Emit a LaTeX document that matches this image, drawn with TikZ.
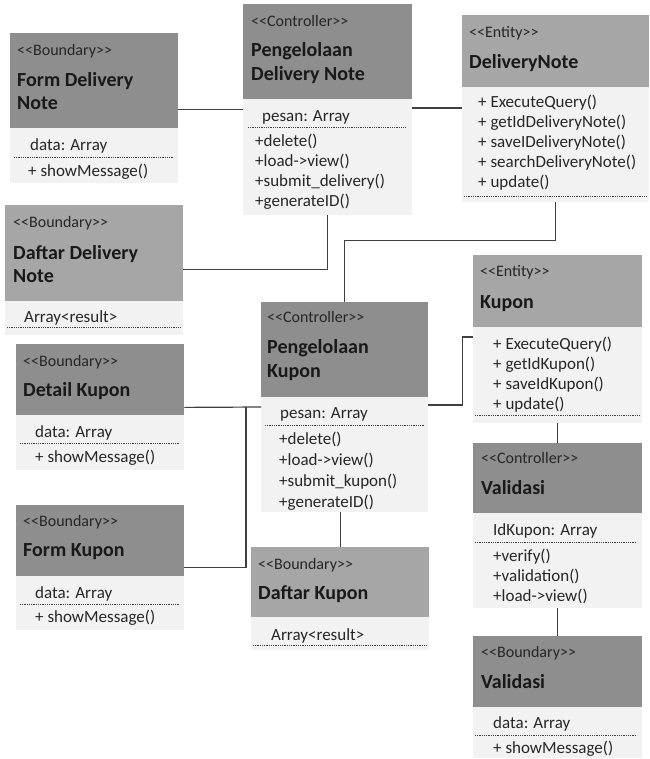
\documentclass[tikz,border=0pt]{standalone}
\usepackage{fontspec}
\setmainfont{Carlito}[Ligatures=TeXOff]
\usepackage{xcolor}
\usepackage{tikz}
\usetikzlibrary{positioning}

\definecolor{hdark}{HTML}{8E8E8E}
\definecolor{hlight}{HTML}{A6A6A6}
\definecolor{bodyfill}{HTML}{F2F2F2}
\definecolor{txtgrey}{HTML}{262626}
\definecolor{lnk}{HTML}{404040}

\begin{document}
\begin{tikzpicture}[x=1pt, y=-1pt,
    hdr/.style={inner sep=0, anchor=north west},
    body/.style={fill=bodyfill, inner sep=0, anchor=north west},
    stereo/.style={anchor=base west, inner sep=0, text=txtgrey, font=\fontsize{16}{19}\selectfont},
    ttl/.style={anchor=base west, inner sep=0, text=black!90, font=\fontsize{20}{24}\selectfont\bfseries},
    mem/.style={anchor=base west, inner sep=0, text=txtgrey, font=\fontsize{17}{20}\selectfont},
    sep/.style={densely dotted, line width=0.8pt, draw=lnk},
    conn/.style={line width=1.2pt, draw=lnk}]
    \useasboundingbox (0,0) rectangle (649,759);

    % Form Delivery Note
    \node[hdr, fill=hdark, minimum width=168pt, minimum height=95pt] (fdnH) at (10,33) {};
    \node[body, minimum width=168pt, minimum height=55pt] (fdnB) at (10,128) {};
    \node[stereo] (fdnS) at (17,55.5) {<<Boundary>>};
    \node[ttl] (fdnT) at (17,86.5) {Form Delivery};
    \node[ttl] (fdnT2) at (17,109.5) {Note};
    \node[mem] (fdnA) at (30,151) {data: Array};
    \draw[sep] (14,157) -- (174,157);
    \node[mem] (fdnM) at (28,177) {+ showMessage()};

    % Pengelolaan Delivery Note
    \node[hdr, fill=hdark, minimum width=169pt, minimum height=95pt] (pdnH) at (243,4) {};
    \node[body, minimum width=169pt, minimum height=116pt] (pdnB) at (243,99) {};
    \node[stereo] (pdnS) at (251,26.5) {<<Controller>>};
    \node[ttl] (pdnT) at (251,56.5) {Pengelolaan};
    \node[ttl] (pdnT2) at (251,80.5) {Delivery Note};
    \node[mem] (pdnA) at (262,122) {pesan: Array};
    \draw[sep] (248,127) -- (406,127);
    \node[mem] (pdnM1) at (255,147) {+delete()};
    \node[mem] (pdnM2) at (255,167) {+load->view()};
    \node[mem] (pdnM3) at (255,187) {+submit\_delivery()};
    \node[mem] (pdnM4) at (255,207) {+generateID()};

    % DeliveryNote
    \node[hdr, fill=hlight, minimum width=187pt, minimum height=72pt] (dnH) at (462,15) {};
    \node[body, minimum width=187pt, minimum height=115pt] (dnB) at (462,87) {};
    \node[stereo] (dnS) at (469,37.5) {<<Entity>>};
    \node[ttl] (dnT) at (469,68.5) {DeliveryNote};
    \node[mem] (dnM1) at (478,108) {+ ExecuteQuery()};
    \node[mem] (dnM2) at (478,128) {+ getIdDeliveryNote()};
    \node[mem] (dnM3) at (478,148) {+ saveIDeliveryNote()};
    \node[mem] (dnM4) at (478,168) {+ searchDeliveryNote()};
    \node[mem] (dnM5) at (478,188) {+ update()};
    \draw[sep] (464,196) -- (647,196);

    % Daftar Delivery Note
    \node[hdr, fill=hlight, minimum width=178pt, minimum height=96pt] (ddnH) at (5,205) {};
    \node[body, minimum width=178pt, minimum height=34pt] (ddnB) at (5,301) {};
    \node[stereo] (ddnS) at (13,227.5) {<<Boundary>>};
    \node[ttl] (ddnT) at (13,259.5) {Daftar Delivery};
    \node[ttl] (ddnT2) at (13,282.5) {Note};
    \node[mem] (ddnA) at (24,322) {Array<result>};
    \draw[sep] (7,327) -- (180,327);

    % Pengelolaan Kupon
    \node[hdr, fill=hdark, minimum width=167pt, minimum height=95pt] (pkH) at (261,302) {};
    \node[body, minimum width=167pt, minimum height=115pt] (pkB) at (261,397) {};
    \node[stereo] (pkS) at (267,322.5) {<<Controller>>};
    \node[ttl] (pkT) at (267,353.5) {Pengelolaan};
    \node[ttl] (pkT2) at (267,377.5) {Kupon};
    \node[mem] (pkA) at (280,418) {pesan: Array};
    \draw[sep] (265,425) -- (424,425);
    \node[mem] (pkM1) at (279,444) {+delete()};
    \node[mem] (pkM2) at (279,465) {+load->view()};
    \node[mem] (pkM3) at (279,486) {+submit\_kupon()};
    \node[mem] (pkM4) at (279,507) {+generateID()};

    % Kupon
    \node[hdr, fill=hlight, minimum width=169pt, minimum height=72pt] (kpH) at (473,255) {};
    \node[body, minimum width=169pt, minimum height=96pt] (kpB) at (473,327) {};
    \node[stereo] (kpS) at (480,276.5) {<<Entity>>};
    \node[ttl] (kpT) at (480,308.5) {Kupon};
    \node[mem] (kpM1) at (493,349) {+ ExecuteQuery()};
    \node[mem] (kpM2) at (493,369) {+ getIdKupon()};
    \node[mem] (kpM3) at (493,389) {+ saveIdKupon()};
    \node[mem] (kpM4) at (493,409) {+ update()};
    \draw[sep] (475,415) -- (640,415);

    % Detail Kupon
    \node[hdr, fill=hdark, minimum width=168pt, minimum height=71pt] (dkH) at (16,344) {};
    \node[body, minimum width=168pt, minimum height=55pt] (dkB) at (16,415) {};
    \node[stereo] (dkS) at (23,366.5) {<<Boundary>>};
    \node[ttl] (dkT) at (23,396.5) {Detail Kupon};
    \node[mem] (dkA) at (35,437) {data: Array};
    \draw[sep] (20,443) -- (180,443);
    \node[mem] (dkM) at (35,462) {+ showMessage()};

    % Form Kupon
    \node[hdr, fill=hdark, minimum width=168pt, minimum height=71pt] (fkH) at (16,505) {};
    \node[body, minimum width=168pt, minimum height=54pt] (fkB) at (16,576) {};
    \node[stereo] (fkS) at (23,526.5) {<<Boundary>>};
    \node[ttl] (fkT) at (23,556.5) {Form Kupon};
    \node[mem] (fkA) at (35,598) {data: Array};
    \draw[sep] (20,604) -- (180,604);
    \node[mem] (fkM) at (35,622) {+ showMessage()};

    % Daftar Kupon
    \node[hdr, fill=hlight, minimum width=178pt, minimum height=70pt] (dkuH) at (251,547) {};
    \node[body, minimum width=178pt, minimum height=33pt] (dkuB) at (251,617) {};
    \node[stereo] (dkuS) at (258,569.5) {<<Boundary>>};
    \node[ttl] (dkuT) at (258,599.5) {Daftar Kupon};
    \node[mem] (dkuA) at (271,640) {Array<result>};
    \draw[sep] (253,645) -- (427,645);

    % Validasi (controller)
    \node[hdr, fill=hdark, minimum width=169pt, minimum height=70pt] (vcH) at (473,443) {};
    \node[body, minimum width=169pt, minimum height=95pt] (vcB) at (473,513) {};
    \node[stereo] (vcS) at (481,463.5) {<<Controller>>};
    \node[ttl] (vcT) at (481,494.5) {Validasi};
    \node[mem] (vcA) at (493,535) {IdKupon: Array};
    \draw[sep] (475,542) -- (637,542);
    \node[mem] (vcM1) at (493,561) {+verify()};
    \node[mem] (vcM2) at (493,581) {+validation()};
    \node[mem] (vcM3) at (493,601) {+load->view()};

    % Validasi (boundary)
    \node[hdr, fill=hdark, minimum width=169pt, minimum height=71pt] (vbH) at (473,636) {};
    \node[body, minimum width=169pt, minimum height=51pt] (vbB) at (473,707) {};
    \node[stereo] (vbS) at (481,657.5) {<<Boundary>>};
    \node[ttl] (vbT) at (481,688.5) {Validasi};
    \node[mem] (vbA) at (493,728) {data: Array};
    \draw[sep] (475,735) -- (637,735);
    \node[mem] (vbM) at (493,753) {+ showMessage()};

    % connectors
    \coordinate (jk) at (246,407);
    \draw[conn] ([yshift=19pt]fdnH.south east) coordinate (c1) -- (c1 -| pdnB.west);
    \draw[conn] ([yshift=-9pt]pdnB.north east) coordinate (c2) -- (c2 -| dnB.west);
    \draw[conn] (pdnB.south) |- ([yshift=32pt]ddnH.south east);
    \draw[conn] (dnB.south) -- ++(0,38) -| (pkH.north);
    \draw[conn] ([yshift=8pt]dkH.south east) -- ([yshift=-10pt]pkB.north west);
    \draw[conn] ([yshift=9pt]fkH.south east) -| (jk);
    \draw[conn] (dkuH.north |- pkB.south) -- (dkuH.north);
    \draw[conn] ([yshift=-8pt]pkB.north east) -- ++(34,0) |- ([yshift=-10pt]kpB.north west);
    \draw[conn] (kpB.south) -- (vcH.north);
    \draw[conn] (vcB.south) -- (vbH.north);
\end{tikzpicture}
\end{document}
